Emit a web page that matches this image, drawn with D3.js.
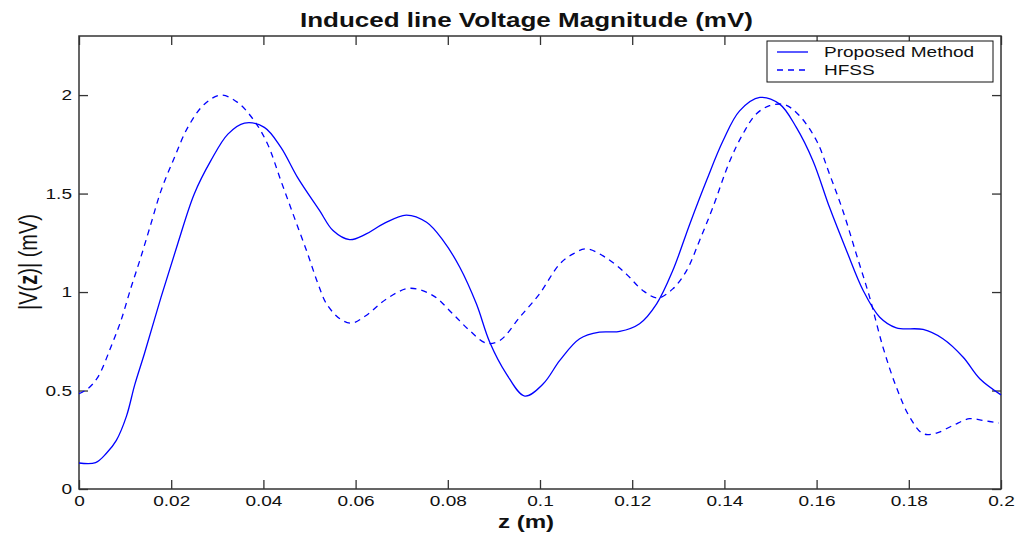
<!DOCTYPE html>
<html>
<head>
<meta charset="utf-8">
<script src="https://cdn.jsdelivr.net/npm/d3@7"></script>
<style>
  body { margin: 0; background: #fff; }
  svg { display: block; }
  text { font-family: "Liberation Sans", Arial, sans-serif; fill: #111; }
</style>
</head>
<body>
<div id="chart"></div>
<script>
// data
const proposed_z = [0, 0.0036, 0.0059, 0.0081, 0.0103, 0.0121, 0.0142, 0.0178, 0.0214, 0.025, 0.0286, 0.0323, 0.0359, 0.0402, 0.0438, 0.0474, 0.0522, 0.0551, 0.0587, 0.0623, 0.066, 0.071, 0.0754, 0.079, 0.0826, 0.0862, 0.0891, 0.0927, 0.0967, 0.1007, 0.1043, 0.1086, 0.1129, 0.1173, 0.1216, 0.1253, 0.1288, 0.1325, 0.1361, 0.1397, 0.1433, 0.1477, 0.152, 0.1556, 0.1592, 0.1628, 0.1665, 0.1701, 0.1737, 0.1773, 0.1831, 0.1874, 0.1918, 0.1954, 0.2]
const proposed_v = [0.132, 0.134, 0.18, 0.247, 0.37, 0.53, 0.688, 0.974, 1.244, 1.498, 1.667, 1.802, 1.858, 1.836, 1.734, 1.582, 1.413, 1.312, 1.266, 1.295, 1.346, 1.391, 1.354, 1.261, 1.126, 0.94, 0.745, 0.585, 0.472, 0.534, 0.653, 0.763, 0.796, 0.80, 0.839, 0.94, 1.109, 1.346, 1.565, 1.768, 1.920, 1.988, 1.954, 1.836, 1.667, 1.43, 1.21, 1.008, 0.872, 0.818, 0.81, 0.763, 0.669, 0.56, 0.478]

const hfss_z = [0, 0.0019, 0.0041, 0.0069, 0.0091, 0.0113, 0.0134, 0.0156, 0.0178, 0.0207, 0.0236, 0.0272, 0.0308, 0.0344, 0.038, 0.0409, 0.0438, 0.0467, 0.0496, 0.0518, 0.0537, 0.0566, 0.0591, 0.0623, 0.0667, 0.0717, 0.0768, 0.0811, 0.0847, 0.0884, 0.0913, 0.0956, 0.0999, 0.1043, 0.1072, 0.1101, 0.1144, 0.1187, 0.1223, 0.1256, 0.1288, 0.1318, 0.1346, 0.1375, 0.1412, 0.144, 0.1469, 0.1498, 0.1531, 0.1563, 0.16, 0.1628, 0.1657, 0.1686, 0.1715, 0.1744, 0.1773, 0.1802, 0.1831, 0.186, 0.1896, 0.1932, 0.1961, 0.1995]
const hfss_v = [0.484, 0.509, 0.568, 0.72, 0.855, 1.024, 1.176, 1.346, 1.515, 1.683, 1.836, 1.954, 2.0, 1.963, 1.87, 1.752, 1.565, 1.379, 1.194, 1.045, 0.94, 0.864, 0.842, 0.881, 0.965, 1.019, 0.982, 0.889, 0.805, 0.740, 0.754, 0.872, 0.991, 1.143, 1.194, 1.219, 1.173, 1.092, 1.008, 0.97, 1.016, 1.109, 1.261, 1.43, 1.667, 1.802, 1.904, 1.946, 1.951, 1.895, 1.768, 1.599, 1.413, 1.194, 0.974, 0.72, 0.517, 0.365, 0.281, 0.284, 0.323, 0.357, 0.348, 0.335]

const x_ticks = [0, 0.02, 0.04, 0.06, 0.08, 0.1, 0.12, 0.14, 0.16, 0.18, 0.2]
const y_ticks = [0, 0.5, 1, 1.5, 2]
const series_names = ["Proposed Method", "HFSS"]

// the original picture is stretched sideways, so text gets widened the same way
const stretch = 1.27

const margin = { top: 36, right: 17, bottom: 50, left: 79 },
    width = 1018 - margin.left - margin.right,
    height = 539 - margin.top - margin.bottom

const svg = d3.select("#chart")
    .append("svg")
    .attr("width", 1018)
    .attr("height", 539)

const chart = svg.append("g")
    .attr("transform", `translate(${margin.left},${margin.top})`)

const x = d3.scaleLinear().domain([0, 0.2]).range([0, width])
const y = d3.scaleLinear().domain([0, 2.3]).range([height, 0])

const fmt = d => d === 0 ? "0" : String(+d.toFixed(2))

// axes, ticks pointing inward on all four sides
const x_axis = chart.append("g")
    .attr("transform", `translate(0,${height})`)
    .call(d3.axisBottom(x).tickValues(x_ticks).tickSizeInner(-9).tickSizeOuter(0).tickFormat(fmt))
x_axis.selectAll("text")
    .attr("y", 17).attr("dy", null)
    .attr("transform", `scale(${stretch},1)`)

const y_axis = chart.append("g")
    .call(d3.axisLeft(y).tickValues(y_ticks).tickSizeInner(-9).tickSizeOuter(0).tickFormat(fmt))
y_axis.selectAll("text")
    .attr("x", 0)
    .attr("transform", `translate(-7,0) scale(${stretch},1)`)

chart.append("g")
    .call(d3.axisTop(x).tickValues(x_ticks).tickSizeInner(-9).tickSizeOuter(0).tickFormat(""))
chart.append("g")
    .attr("transform", `translate(${width},0)`)
    .call(d3.axisRight(y).tickValues(y_ticks).tickSizeInner(-9).tickSizeOuter(0).tickFormat(""))

chart.selectAll(".domain").remove()
chart.selectAll(".tick line").attr("stroke", "#333").attr("stroke-width", 1.3)
chart.selectAll(".tick text").style("font-size", "15px").attr("fill", "#222")

chart.append("rect")
    .attr("width", width).attr("height", height)
    .attr("fill", "none")
    .attr("stroke", "#333")
    .attr("stroke-width", 1.5)

// curves
const line = d3.line()
    .curve(d3.curveCatmullRom.alpha(0.5))
    .x(d => x(d[0]))
    .y(d => y(d[1]))

chart.append("path")
    .datum(proposed_z.map((z, i) => [z, proposed_v[i]]))
    .attr("d", line)
    .attr("fill", "none")
    .attr("stroke", "#0000ff")
    .attr("stroke-width", 1.3)

chart.append("path")
    .datum(hfss_z.map((z, i) => [z, hfss_v[i]]))
    .attr("d", line)
    .attr("fill", "none")
    .attr("stroke", "#0000ff")
    .attr("stroke-width", 1.3)
    .attr("stroke-dasharray", "6,5")

// legend
const legend = svg.append("g")
legend.append("rect")
    .attr("x", 767).attr("y", 41)
    .attr("width", 226).attr("height", 41)
    .attr("fill", "#fff")
    .attr("stroke", "#111")
    .attr("stroke-width", 1)

series_names.forEach((name, i) => {
    const ly = 52 + i * 18
    legend.append("line")
        .attr("x1", 777).attr("x2", 808)
        .attr("y1", ly).attr("y2", ly)
        .attr("stroke", "#0000ff")
        .attr("stroke-width", 1.3)
        .attr("stroke-dasharray", i === 1 ? "6,5" : null)
    legend.append("text")
        .attr("transform", `translate(824,${ly + 5}) scale(${stretch},1)`)
        .style("font-size", "15px")
        .text(name)
})

// titles
svg.append("text")
    .attr("transform", `translate(300,27) scale(1.3,1)`)
    .style("font-size", "20px")
    .style("font-weight", "bold")
    .text("Induced line Voltage Magnitude (mV)")

svg.append("text")
    .attr("transform", `translate(526,528) scale(${stretch},1)`)
    .attr("text-anchor", "middle")
    .style("font-size", "19px")
    .style("font-weight", "bold")
    .text("z (m)")

const ylab = svg.append("text")
    .attr("transform", `translate(37,262) scale(${stretch},1) rotate(-90)`)
    .attr("text-anchor", "middle")
    .style("font-size", "20px")
ylab.append("tspan").text("|V(")
ylab.append("tspan").style("font-weight", "bold").text("z")
ylab.append("tspan").text(")| (mV)")
</script>
</body>
</html>
